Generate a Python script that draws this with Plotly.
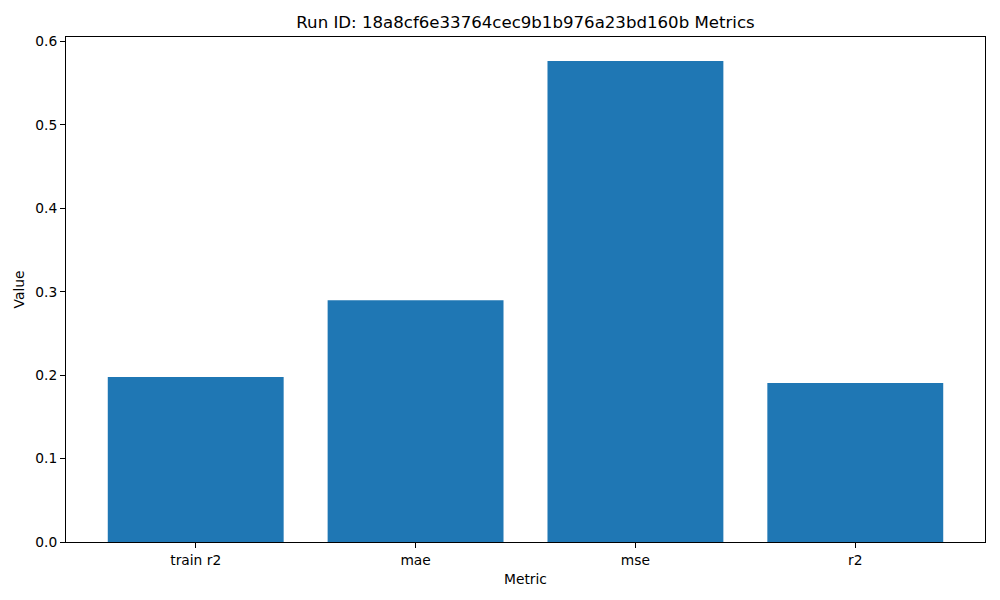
import plotly.graph_objects as go

metrics = ["train r2", "mae", "mse", "r2"]
values = [0.1978, 0.2900, 0.5767, 0.1906]
y_ticks = [0.0, 0.1, 0.2, 0.3, 0.4, 0.5, 0.6]
title = "Run ID: 18a8cf6e33764cec9b1b976a23bd160b Metrics"

fig = go.Figure(go.Bar(x=metrics, y=values, marker_color="#1f77b4", marker_line_width=0, width=0.8))

axis_style = dict(
    showline=True, linecolor="black", linewidth=1, mirror=True,
    ticks="outside", ticklen=5, tickcolor="black", showgrid=False, zeroline=False,
    tickfont=dict(size=13.8, color="black"),
)

# page body adds an 8px margin, so the figure is a bit smaller than the window
fig.update_layout(
    width=992, height=592,
    margin=dict(l=58, r=15, t=29, b=58),
    paper_bgcolor="white", plot_bgcolor="white",
    font=dict(family="DejaVu Sans", color="black"),
    title=dict(text=title, x=0.5217, xanchor="center", y=0.976, yanchor="middle",
               font=dict(size=16.6, color="black")),
    showlegend=False,
)
fig.update_xaxes(range=[-0.59, 3.59], title=dict(text="Metric", font=dict(size=13.8), standoff=7), **axis_style)
fig.update_yaxes(range=[0, 0.6055], tickvals=y_ticks, tickformat=".1f",
                 title=dict(text="Value", font=dict(size=13.8), standoff=7), **axis_style)

fig.write_html("out.html")
